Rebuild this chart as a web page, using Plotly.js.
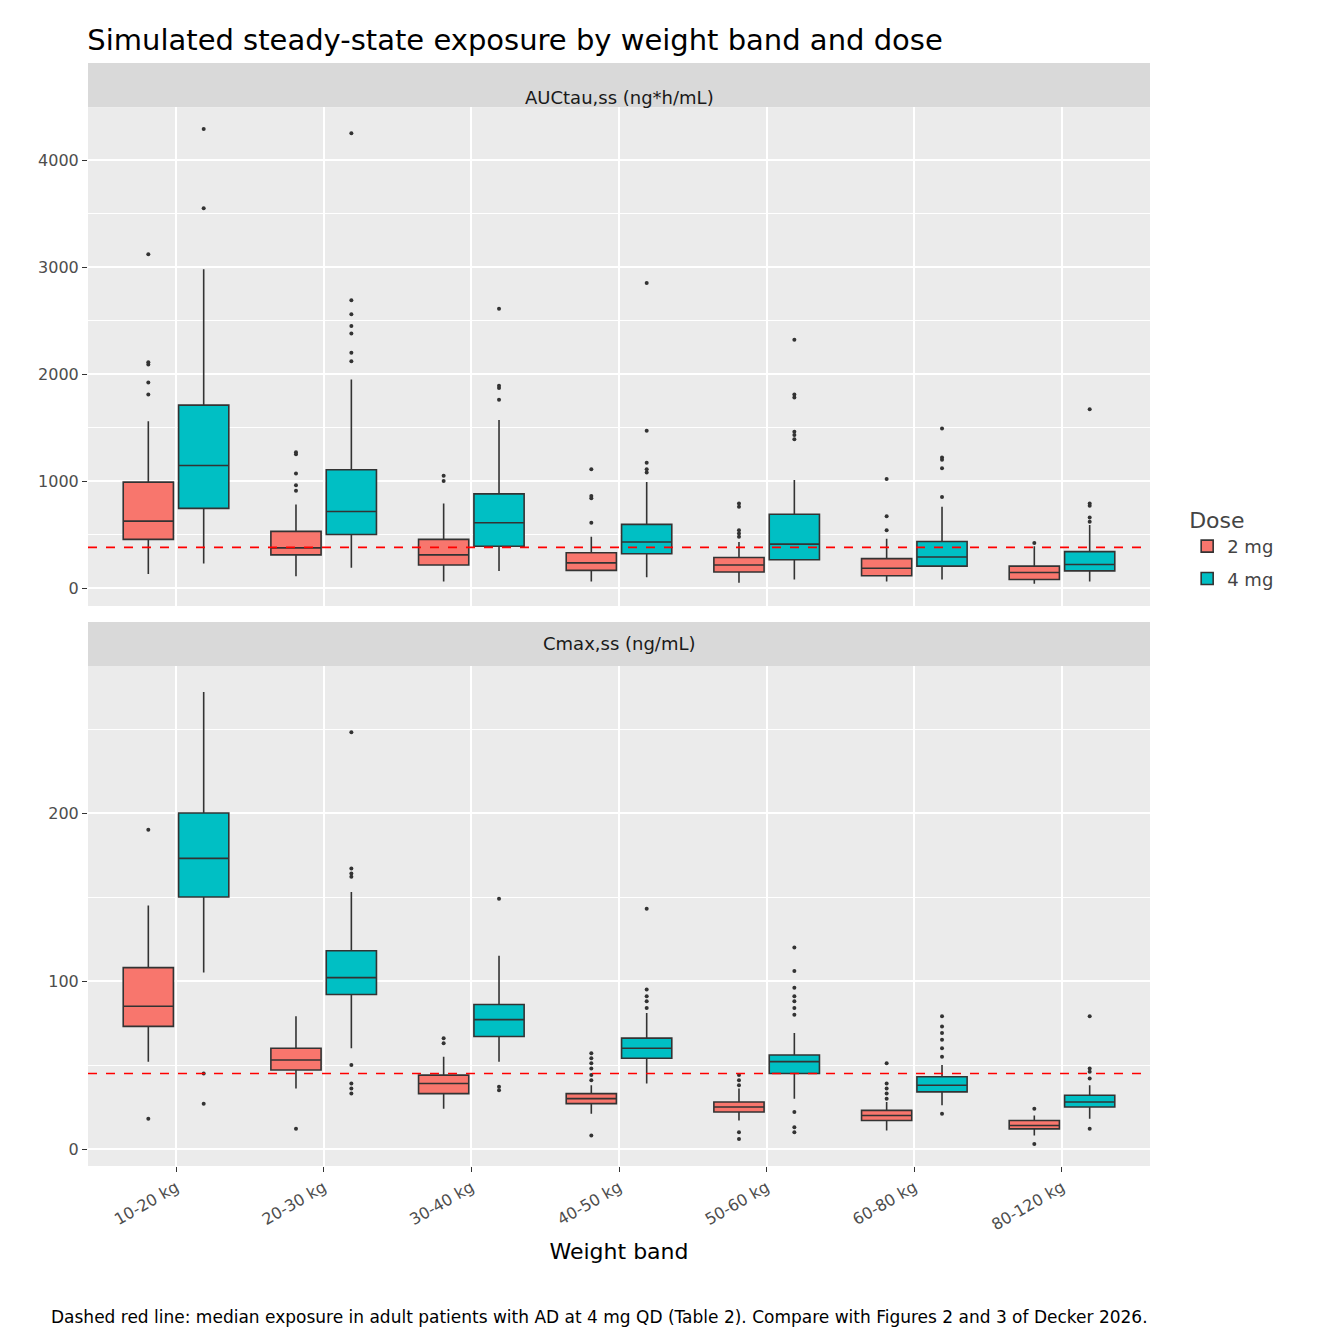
<!DOCTYPE html>
<html>
<head>
<meta charset="utf-8">
<script src="https://cdn.plot.ly/plotly-3.0.1.min.js"></script>
<style>body{margin:0}</style>
</head>
<body>
<div id="myPlot" style="width:1344px;height:1344px"></div>
<script>
// weight bands
let bands=['10-20 kg','20-30 kg','30-40 kg','40-50 kg','50-60 kg','60-80 kg','80-120 kg']
// box stats per band: [lowerfence, q1, median, q3, upperfence]
let auc2=[[130,455,625,990,1560],[110,310,375,530,780],[60,215,310,455,790],[60,165,235,330,480],[50,150,215,285,430],[60,115,185,275,460],[40,80,145,205,390]]
let auc4=[[230,745,1145,1710,2980],[190,500,715,1105,1950],[160,390,610,880,1570],[100,320,430,595,990],[80,265,410,690,1010],[80,205,290,435,760],[60,160,220,340,590]]
let auc2Out=[[1810,1920,2090,2110,3120],[910,960,1070,1250,1270],[1000,1050],[610,840,860,1110],[480,510,540,760,790],[540,670,1020],[420]]
let auc4Out=[[3550,4290],[2120,2200,2380,2450,2560,2690,4250],[1760,1870,1890,2610],[1080,1110,1170,1470,2850],[1390,1430,1460,1780,1810,2320],[850,1120,1200,1220,1490],[620,660,770,790,1670]]
let cmax2=[[52,73,85,108,145],[36,47,53,60,79],[24,33,39,44,55],[21,27,30,33,38],[17,22,25,28,36],[11,17,20,23,28],[8,12,14,17,20]]
let cmax4=[[105,150,173,200,272],[60,92,102,118,153],[52,67,77,86,115],[39,54,60,66,81],[30,45,52,56,69],[26,34,38,43,50],[18,25,28,32,38]]
let cmax2Out=[[18,190],[12],[63,66],[8,41,44,48,51,54,57],[6,10,38,41,44],[30,33,36,39,51],[3,24]]
let cmax4Out=[[27,45],[33,36,39,50,162,164,167,248],[35,37,149],[84,88,91,95,143],[10,13,22,80,84,88,91,96,106,120],[21,55,60,65,69,73,79],[12,42,46,48,79]]
let refAuc=380
let refCmax=45

let red='#F8766D', teal='#00BFC4'
let data=[]
function addSet(stats,outs,off,color,name,xa,ya,show){
    let xs=bands.map((b,i)=>i+1+off)
    data.push({type:'box',name:name,legendgroup:name,showlegend:show,x:xs,
        q1:stats.map(s=>s[1]),median:stats.map(s=>s[2]),q3:stats.map(s=>s[3]),
        lowerfence:stats.map(s=>s[0]),upperfence:stats.map(s=>s[4]),
        width:0.34,fillcolor:color,line:{color:'#333333',width:1.6},
        whiskerwidth:0,xaxis:xa,yaxis:ya,hoverinfo:'skip'})
    let ox=[],oy=[]
    outs.forEach((o,i)=>o.forEach(v=>{ox.push(i+1+off);oy.push(v)}))
    data.push({type:'scatter',mode:'markers',x:ox,y:oy,showlegend:false,
        marker:{color:'#333333',size:4},xaxis:xa,yaxis:ya,hoverinfo:'skip'})
}
addSet(auc2,auc2Out,-0.1875,red,'2 mg','x','y',true)
addSet(auc4,auc4Out,0.1875,teal,'4 mg','x','y',true)
addSet(cmax2,cmax2Out,-0.1875,red,'2 mg','x2','y2',false)
addSet(cmax4,cmax4Out,0.1875,teal,'4 mg','x2','y2',false)
data.push({type:'scatter',mode:'lines',x:[0.404,7.596],y:[refAuc,refAuc],xaxis:'x',yaxis:'y',showlegend:false,line:{color:'red',dash:'dash',width:1.6},hoverinfo:'skip'})
data.push({type:'scatter',mode:'lines',x:[0.404,7.596],y:[refCmax,refCmax],xaxis:'x2',yaxis:'y2',showlegend:false,line:{color:'red',dash:'dash',width:1.6},hoverinfo:'skip'})

let tickf={family:'DejaVu Sans',size:16,color:'#4D4D4D'}
let xbase={range:[0.404,7.596],tickvals:bands.map((b,i)=>i+1),showgrid:true,gridcolor:'white',gridwidth:2,zeroline:false,ticks:'outside',ticklen:5,tickcolor:'#333333',tickfont:tickf}
let ybase={showgrid:true,gridcolor:'white',gridwidth:2,zeroline:false,ticks:'outside',ticklen:5,tickcolor:'#333333',tickfont:tickf,minor:{showgrid:true,gridcolor:'white',gridwidth:1}}
let layout={
    width:1344,height:1344,
    margin:{l:88,r:194,t:63,b:178},
    paper_bgcolor:'white',plot_bgcolor:'#EBEBEB',
    boxmode:'overlay',
    font:{family:'DejaVu Sans'},
    title:{text:'Simulated steady-state exposure by weight band and dose',x:0.065,xanchor:'left',y:0.978,font:{size:29,color:'black'}},
    xaxis:Object.assign({},xbase,{anchor:'y',showticklabels:false,ticks:''}),
    yaxis:Object.assign({},ybase,{domain:[0.5077,0.960],range:[-168,4495],tickvals:[0,1000,2000,3000,4000],minor:{tickvals:[500,1500,2500,3500],showgrid:true,gridcolor:'white',gridwidth:1}}),
    xaxis2:Object.assign({},xbase,{anchor:'y2',ticktext:bands,tickangle:-30,title:{text:'Weight band',font:{size:22,color:'black'},standoff:10}}),
    yaxis2:Object.assign({},ybase,{domain:[0,0.4533],range:[-10.1,287.5],tickvals:[0,100,200],minor:{tickvals:[50,150,250],showgrid:true,gridcolor:'white',gridwidth:1}}),
    shapes:[
        {type:'rect',xref:'paper',yref:'paper',x0:0,x1:1,y0:0.960,y1:1.0,fillcolor:'#D9D9D9',line:{width:0}},
        {type:'rect',xref:'paper',yref:'paper',x0:0,x1:1,y0:0.4533,y1:0.4932,fillcolor:'#D9D9D9',line:{width:0}}
    ],
    annotations:[
        {text:'AUCtau,ss (ng*h/mL)',xref:'paper',yref:'paper',x:0.5,y:0.980,showarrow:false,font:{size:18,color:'#1A1A1A'}},
        {text:'Cmax,ss (ng/mL)',xref:'paper',yref:'paper',x:0.5,y:0.4733,showarrow:false,font:{size:18,color:'#1A1A1A'}},
        {text:'Dashed red line: median exposure in adult patients with AD at 4 mg QD (Table 2). Compare with Figures 2 and 3 of Decker 2026.',xref:'paper',yref:'paper',x:1,xanchor:'right',y:-0.137,yanchor:'middle',showarrow:false,font:{size:17,color:'black'}}
    ],
    legend:{x:1.035,xanchor:'left',y:0.56,yanchor:'middle',title:{text:'Dose',font:{size:22}},font:{size:18},bgcolor:'white',tracegroupgap:6}
}
Plotly.newPlot('myPlot',data,layout,{displayModeBar:false})
</script>
</body>
</html>
